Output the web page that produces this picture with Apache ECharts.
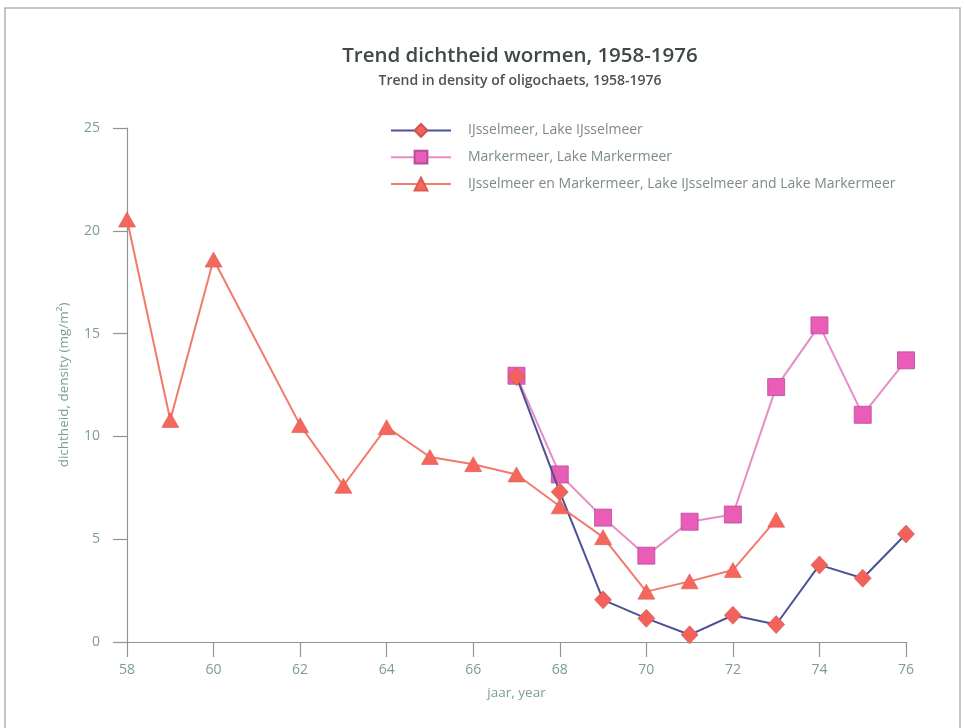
<!DOCTYPE html>
<html>
<head>
<meta charset="utf-8">
<title>Trend dichtheid wormen, 1958-1976</title>
<script src="https://cdn.jsdelivr.net/npm/echarts@6/dist/echarts.min.js"></script>
<style>
  html, body { margin: 0; padding: 0; background: #ffffff; }
  #chart { width: 965px; height: 728px; }
</style>
</head>
<body>
<div id="chart"></div>
<script>
// Density of oligochaets (mg/m²) per year, 1958-1976

// IJsselmeer (diamonds)
const ijsselmeerYears = [67, 68, 69, 70, 71, 72, 73, 74, 75, 76];
const ijsselmeer = [12.9, 7.3, 2.05, 1.15, 0.35, 1.3, 0.85, 3.75, 3.1, 5.25];

// Markermeer (squares)
const markermeerYears = [67, 68, 69, 70, 71, 72, 73, 74, 75, 76];
const markermeer = [12.95, 8.15, 6.05, 4.2, 5.85, 6.2, 12.4, 15.4, 11.05, 13.7];

// IJsselmeer and Markermeer combined (triangles)
const combinedYears = [58, 59, 60, 62, 63, 64, 65, 66, 67, 68, 69, 70, 71, 72, 73];
const combined = [20.55, 10.8, 18.6, 10.55, 7.6, 10.45, 9.0, 8.65, 8.15, 6.6, 5.1, 2.45, 2.95, 3.5, 5.95];

const xTicks = [58, 60, 62, 64, 66, 68, 70, 72, 74, 76];
const yTicks = [0, 5, 10, 15, 20, 25];

const seriesNames = [
  'IJsselmeer, Lake IJsselmeer',
  'Markermeer, Lake Markermeer',
  'IJsselmeer en Markermeer, Lake IJsselmeer and Lake Markermeer'
];

const pair = (xs, ys) => xs.map((x, i) => [x, ys[i]]);

const FONT = '"Open Sans", "Noto Sans", sans-serif';
const axisColor = '#8a9794';
const labelColor = '#7a9c98';

const chart = echarts.init(document.getElementById('chart'), null, { renderer: 'canvas' });

chart.setOption({
  backgroundColor: '#ffffff',
  animation: false,
  graphic: [
    {
      type: 'rect',
      shape: { x: 5, y: 8, width: 955, height: 740 },
      style: { fill: 'none', stroke: '#a9b6b2', lineWidth: 1.5 },
      silent: true
    }
  ],
  title: {
    text: 'Trend dichtheid wormen, 1958-1976',
    subtext: 'Trend in density of oligochaets, 1958-1976',
    left: 515,
    textAlign: 'center',
    top: 41,
    itemGap: 7,
    textStyle: { fontFamily: FONT, fontSize: 20.5, fontWeight: 600, color: '#3f4847' },
    subtextStyle: { fontFamily: FONT, fontSize: 14, fontWeight: 600, color: '#4a5453' }
  },
  legend: {
    orient: 'vertical',
    left: 390,
    top: 123,
    padding: 0,
    itemWidth: 60,
    itemHeight: 16,
    itemGap: 12,
    data: seriesNames,
    textStyle: { fontFamily: FONT, fontSize: 14, color: '#7d8a88', padding: [0, 0, 0, 12] }
  },
  grid: { left: 127, right: 59, top: 128, bottom: 86, containLabel: false },
  xAxis: {
    type: 'value',
    min: 58,
    max: 76,
    interval: 2,
    name: 'jaar, year',
    nameLocation: 'middle',
    nameGap: 44,
    nameTextStyle: { fontFamily: FONT, fontSize: 13.5, color: labelColor },
    axisLine: { onZero: false, lineStyle: { color: axisColor, width: 1.2 } },
    axisTick: { show: true, length: 15, lineStyle: { color: axisColor, width: 1.2 } },
    axisLabel: {
      fontFamily: FONT, fontSize: 14, color: labelColor, margin: 21,
      formatter: v => (xTicks.indexOf(v) >= 0 ? String(v) : '')
    },
    splitLine: { show: false }
  },
  yAxis: {
    type: 'value',
    min: 0,
    max: 25,
    interval: 5,
    name: 'dichtheid, density (mg/m²)',
    nameLocation: 'middle',
    nameGap: 56,
    nameTextStyle: { fontFamily: FONT, fontSize: 13.5, color: labelColor },
    axisLine: { show: true, lineStyle: { color: axisColor, width: 1.2 } },
    axisTick: { show: true, length: 14, lineStyle: { color: axisColor, width: 1.2 } },
    axisLabel: {
      fontFamily: FONT, fontSize: 14, color: labelColor, margin: 27,
      formatter: v => (yTicks.indexOf(v) >= 0 ? String(v) : '')
    },
    splitLine: { show: false }
  },
  series: [
    {
      name: seriesNames[1],
      type: 'line',
      data: pair(markermeerYears, markermeer),
      symbol: 'rect',
      symbolSize: 17,
      lineStyle: { color: '#e88cc6', width: 2 },
      itemStyle: { color: '#e95cb8', borderColor: '#b94c98', borderWidth: 0.8 },
      z: 2
    },
    {
      name: seriesNames[0],
      type: 'line',
      data: pair(ijsselmeerYears, ijsselmeer),
      symbol: 'diamond',
      symbolSize: [17, 18],
      lineStyle: { color: '#4d5196', width: 2 },
      itemStyle: { color: '#f2625a', borderColor: '#c9554f', borderWidth: 0.6 },
      z: 3
    },
    {
      name: seriesNames[2],
      type: 'line',
      data: pair(combinedYears, combined),
      symbol: 'triangle',
      symbolSize: [17, 15],
      lineStyle: { color: '#f27a6c', width: 2 },
      itemStyle: { color: '#f5675d', borderColor: '#d95b52', borderWidth: 0.6 },
      z: 4
    }
  ]
});
</script>
</body>
</html>
